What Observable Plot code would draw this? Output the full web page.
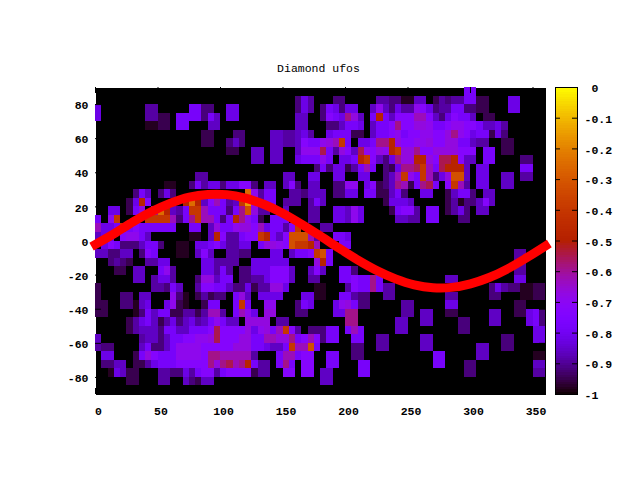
<!DOCTYPE html>
<html>
<head>
<meta charset="utf-8">
<script src="https://cdn.jsdelivr.net/npm/d3@7"></script>
<script src="https://cdn.jsdelivr.net/npm/@observablehq/plot@0.6"></script>
<style>
html,body{margin:0;padding:0;background:#fff;overflow:hidden}
#wrap{position:relative;width:640px;height:480px}
#wrap svg{position:absolute;left:0;top:0;background:transparent}
</style>
</head>
<body>
<div id="wrap"></div>
<script>
// Level codes -> value (colour-bar units)
const levelCodes = "123456789abcdefghi";
const levelValues = [-0.98,-0.95,-0.92,-0.89,-0.86,-0.82,-0.78,-0.73,-0.69,-0.67,-0.63,-0.59,-0.55,-0.48,-0.40,-0.32,-0.25,-0.15];

// One list per 5-degree latitude band, from +85..90 down; runs of [lon/5, level codes]
const band00=[[59,"77"]];
const band01=[[32,"364"],[38,"33"],[45,"44"],[47,"33"],[49,"11"],[51,"55"],[54,"2"],[55,"43"],[57,"44"],[59,"77"],[61,"22"],[66,"66"]];
const band02=[[0,"6"],[8,"44"],[15,"77"],[17,"33"],[21,"66"],[32,"364"],[36,"3763"],[40,"66"],[44,"59536"],[49,"44"],[51,"986344773322"],[66,"66"]];
const band03=[[0,"6"],[8,"44"],[10,"22"],[13,"77"],[15,"77"],[17,"3"],[18,"75"],[21,"66"],[32,"55"],[36,"3876ca5"],[44,"7e75888"],[51,"bb85368775"],[62,"22"]];
const band04=[[8,"11"],[10,"22"],[13,"77"],[18,"55"],[32,"55"],[37,"335776"],[44,"5778c88aa9"],[54,"778998875564"]];
const band05=[[17,"22"],[22,"33"],[28,"55"],[30,"44"],[32,"564"],[37,"6777"],[41,"22"],[44,"57789"],[49,"7889988ac98677263"]];
const band06=[[17,"22"],[21,"353"],[28,"5544"],[32,"58779abf7"],[42,"667ccea8899a88aa77544"],[65,"22"]];
const band07=[[21,"22"],[25,"55"],[28,"55"],[32,"5999"],[36,"d74a85d98a9efaac88aaaa888"],[62,"77"],[65,"22"]];
const band08=[[25,"55"],[28,"55"],[32,"6777"],[36,"97"],[39,"667ef8536caaeea8dde855"],[62,"77"],[68,"33"]];
const band09=[[35,"3"],[36,"7366247b7"],[46,"326ccdfb7deee5"],[61,"66"],[68,"77"]];
const band10=[[16,"44"],[30,"55"],[34,"66"],[38,"66"],[42,"66"],[46,"35bf97fb36agg5"],[61,"66"],[65,"55"],[68,"44"]];
const band11=[[11,"11"],[15,"37466366883"],[27,"55"],[30,"583"],[34,"55"],[38,"3399"],[43,"68235cb27cd7"],[56,"8fb4"],[61,"66"],[65,"55"]];
const band12=[[6,"375"],[10,"363"],[24,"h94"],[27,"77"],[31,"443"],[34,"55"],[36,"5"],[38,"3366"],[43,"7722573"],[52,"66"],[56,"25773"],[62,"55"]];
const band13=[[5,"26e8"],[14,"ehe58b7"],[21,"45fia4"],[27,"77"],[30,"444"],[34,"47"],[36,"5"],[46,"26665"],[56,"24133585"]];
const band14=[[2,"66"],[5,"27a"],[9,"che54"],[14,"7ffb777"],[21,"37cga44"],[30,"5"],[34,"44"],[38,"66596"],[47,"27884"],[53,"77"],[56,"2463"],[61,"55"]];
const band15=[[0,"7"],[2,"9f"],[8,"ffffb37"],[15,"cfbb737ec97"],[26,"2"],[28,"777"],[34,"44"],[38,"66596"],[48,"5544"],[53,"77"],[58,"33"]];
const band16=[[0,"b667f78777777"],[15,"77"],[18,"5a779aa8b67748f"],[36,"44"]];
const band17=[[0,"566"],[4,"89975"],[15,"11"],[18,"5e844788fe758gggb4"],[38,"776"]];
const band18=[[1,"6873335773"],[13,"11"],[16,"66"],[18,"7864466"],[26,"7aa98gffeb"],[39,"77"]];
const band19=[[0,"553355"],[7,"387"],[13,"11"],[16,"585"],[21,"4433"],[28,"66"],[31,"5778fg7"],[67,"44"]];
const band20=[[2,"3432"],[8,"4466"],[17,"66"],[19,"4444"],[25,"666666"],[35,"ae7"],[67,"44"]];
const band21=[[3,"22"],[6,"55"],[10,"794"],[17,"66474"],[23,"336668885"],[34,"585"],[39,"773"],[67,"44"]];
const band22=[[6,"55"],[9,"4664"],[16,"3aa577"],[23,"334468885"],[34,"44"],[39,"77877c7"],[56,"55"],[67,"66"]];
const band23=[[0,"2"],[9,"44375"],[16,"488775336244aa6"],[35,"11"],[40,"4877c744"],[63,"364331122"]];
const band24=[[0,"2"],[4,"33"],[7,"55"],[12,"931"],[16,"24233"],[22,"7a5"],[26,"6666"],[33,"66"],[35,"11"],[39,"77433"],[46,"44"],[56,"44"],[63,"33"],[68,"1122"]];
const band25=[[0,"22"],[4,"33156"],[11,"6921"],[17,"277"],[22,"7f7"],[27,"99"],[32,"376"],[38,"69a733"],[49,"44"],[56,"66"],[67,"22"]];
const band26=[[0,"22"],[6,"137577224424bb4"],[22,"7b96"],[27,"aa"],[32,"33"],[38,"66cc"],[49,"44"],[52,"55"],[56,"22"],[63,"55"],[67,"22673"]];
const band27=[[5,"246752463564579755"],[24,"aaaa"],[29,"44"],[40,"cc"],[48,"55"],[52,"55"],[58,"33"],[63,"55"],[69,"673"]];
const band28=[[5,"24555377557778d8888a69a7bf84"],[34,"33"],[36,"377"],[40,"7b7"],[48,"55"],[58,"33"],[70,"66"]];
const band29=[[0,"5"],[7,"45535778899ad888aa77bbaac78b8377"],[41,"77"],[45,"44"],[52,"55"],[65,"33"],[70,"66"]];
const band30=[[0,"433"],[7,"573357999988888aaa776557fbbg7"],[41,"33"],[45,"44"],[52,"55"],[61,"55"],[65,"33"]];
const band31=[[1,"66"],[6,"27a877799998ccbbbbb4"],[29,"7bb788"],[37,"77"],[41,"33"],[54,"77"],[61,"55"],[70,"11"]];
const band32=[[1,"3355"],[6,"224677788888cacdbce744"],[29,"7c7"],[33,"88"],[37,"77"],[42,"77"],[54,"77"],[59,"33"],[70,"55"]];
const band33=[[2,"16522"],[10,"443364788478888244"],[30,"88"],[33,"88"],[36,"55"],[42,"77"],[59,"33"],[70,"44"]];
const band34=[[5,"22"],[10,"44"],[14,"53255"],[36,"55"]];
const bands=[band00,band01,band02,band03,band04,band05,band06,band07,band08,band09,band10,band11,band12,band13,band14,band15,band16,band17,band18,band19,band20,band21,band22,band23,band24,band25,band26,band27,band28,band29,band30,band31,band32,band33,band34];

// Red curve
const curveLon=[0,15,30,45,60,75,90,105,120,135,150,165,180,195,210,225,240,255,270,285,300,315,330,345,360];
const curveLat=[-2,4.3,11.2,17.3,22.2,25.7,27.3,27.2,25.1,21.4,16.2,9.8,2.9,-4.3,-11.2,-17.3,-22.2,-25.7,-27.4,-27.2,-25.1,-21.4,-16.2,-9.8,-2.9];

const xTicks=[0,50,100,150,200,250,300,350];
const yTicks=[-80,-60,-40,-20,0,20,40,60,80];
const barTicks=[-1,-0.9,-0.8,-0.7,-0.6,-0.5,-0.4,-0.3,-0.2,-0.1,0];
const barLabels=["-1","-0.9","-0.8","-0.7","-0.6","-0.5","-0.4","-0.3","-0.2","-0.1","\u00a00"];
const titleText="Diamond ufos";

const cells=[];
bands.forEach((runs,r)=>runs.forEach(([k,codes])=>{
  [...codes].forEach((c,i)=>{
    cells.push({lon:(k+i)*5,lat:90-5*r,value:levelValues[levelCodes.indexOf(c)]});
  });
}));
const curve=curveLon.map((lon,i)=>({lon,lat:curveLat[i]}));

// gnuplot rgbformulae 7,5,15
function palette(t){
  t=Math.max(0,Math.min(1,t));
  const r=Math.sqrt(t),g=t*t*t,b=Math.max(0,Math.sin(2*Math.PI*t));
  return `rgb(${Math.round(r*255)},${Math.round(g*255)},${Math.round(b*255)})`;
}
const FONT="'Liberation Mono','DejaVu Sans Mono',monospace";
const colorOpts={type:"linear",domain:[-1,0],interpolate:palette};

const main=Plot.plot({
  width:640,height:480,
  marginLeft:95,marginRight:95,marginTop:87,marginBottom:86,
  style:{fontFamily:FONT,fontSize:"11.5px",fontWeight:"bold",color:"#000",background:"transparent"},
  x:{domain:[0,360],label:null},
  y:{domain:[-90,90],label:null},
  color:colorOpts,
  marks:[
    Plot.frame({fill:"#000",shapeRendering:"crispEdges"}),
    Plot.rect(cells,{x1:"lon",x2:d=>d.lon+5,y1:d=>d.lat-5,y2:"lat",fill:"value",shapeRendering:"crispEdges"}),
    Plot.tickX(xTicks,{x:d=>d,insetTop:301,stroke:"#000"}),
    Plot.tickX(xTicks,{x:d=>d,insetBottom:301,stroke:"#000"}),
    Plot.tickY(yTicks,{y:d=>d,insetRight:444,stroke:"#000"}),
    Plot.tickY(yTicks,{y:d=>d,insetLeft:444,stroke:"#000"}),
    Plot.line(curve,{x:"lon",y:"lat",stroke:"#f00",strokeWidth:9,curve:"catmull-rom",strokeLinecap:"square",strokeLinejoin:"round"}),
    Plot.axisX(xTicks,{anchor:"bottom",tickSize:0,tickPadding:12,dx:3,label:null,tickFormat:d=>String(d)}),
    Plot.axisY(yTicks,{anchor:"left",tickSize:0,tickPadding:7,dy:1,label:null,tickFormat:d=>String(d)}),
    Plot.text([titleText],{frameAnchor:"top",dx:-2,dy:-24,fill:"#000",fontWeight:"normal"})
  ]
});
document.getElementById("wrap").append(main);

const barLevels=d3.range(0,128);
const bar=Plot.plot({
  width:640,height:480,
  marginLeft:555,marginRight:63,marginTop:87,marginBottom:86,
  style:{fontFamily:FONT,fontSize:"11.5px",fontWeight:"bold",color:"#000",background:"transparent"},
  x:{axis:null},
  y:{domain:[-1,0],axis:null},
  color:colorOpts,
  marks:[
    Plot.rect(barLevels,{y1:d=>-1+d/128,y2:d=>-1+(d+1)/128,fill:d=>-1+(d+0.5)/128,shapeRendering:"crispEdges"}),
    Plot.frame({stroke:"#000",shapeRendering:"crispEdges"}),
    Plot.tickY(barTicks,{y:d=>d,insetRight:17,stroke:"#000"}),
    Plot.tickY(barTicks,{y:d=>d,insetLeft:17,stroke:"#000"}),
    Plot.text(barTicks,{y:d=>d,text:(d,i)=>barLabels[i],frameAnchor:"right",textAnchor:"start",dx:7,dy:1,fill:"#000"})
  ]
});
document.getElementById("wrap").append(bar);
</script>
</body>
</html>
